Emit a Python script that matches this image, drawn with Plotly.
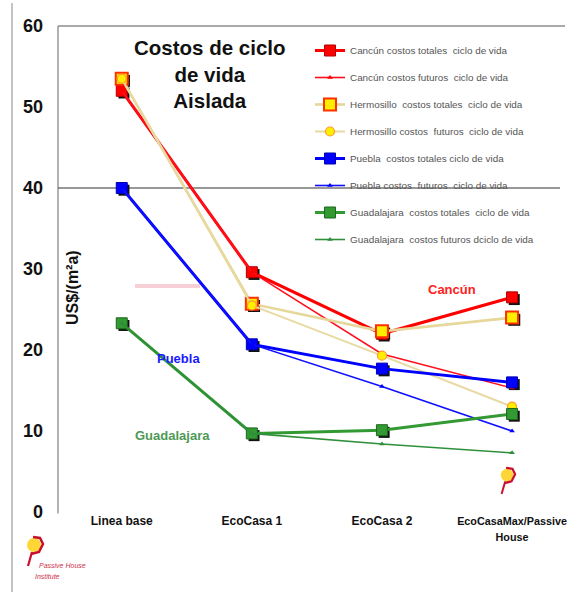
import plotly.graph_objects as go

# Scenario categories on the x axis
categories = ["Linea base", "EcoCasa 1", "EcoCasa 2", "EcoCasaMax/Passive<br>House"]

# Life-cycle costs, US$/(m²a)
cancun_totales = [52.0, 29.6, 22.0, 26.5]
cancun_futuros = [52.0, 29.6, 19.5, 15.3]
hermosillo_totales = [53.5, 25.7, 22.3, 24.0]
hermosillo_futuros = [53.5, 25.5, 19.3, 13.0]
puebla_totales = [40.0, 20.7, 17.7, 16.0]
puebla_futuros = [40.0, 20.7, 15.5, 10.0]
guadalajara_totales = [23.3, 9.7, 10.1, 12.1]
guadalajara_futuros = [23.3, 9.7, 8.4, 7.3]

y_ticks = [0, 10, 20, 30, 40, 50, 60]

FONT = "Liberation Sans, Arial, sans-serif"
W, H = 568, 592
ML, MR, MT, MB = 58, 0, 26, 80
PW, PH = W - ML - MR, H - MT - MB

X_RANGE = [-0.49, 3.43]
Y_RANGE = [0, 60]
px_per_x = PW / (X_RANGE[1] - X_RANGE[0])
px_per_y = PH / (Y_RANGE[1] - Y_RANGE[0])
SHADOW = 2.2  # drop-shadow offset in pixels


def px(x, y):
    """Pixel position -> paper coordinates (for decorations only)."""
    return (x - ML) / PW, (H - MB - y) / PH


xi = list(range(len(categories)))

series = [
    ("Cancún costos totales  ciclo de vida", cancun_totales,
     dict(color="#ff0000", width=3), dict(symbol="square", size=11, color="#ff0000",
                                          line=dict(color="#b00000", width=1)), True),
    ("Cancún costos futuros  ciclo de vida", cancun_futuros,
     dict(color="#ff1020", width=1.6), dict(symbol="triangle-up", size=5, color="#ff0000"), False),
    ("Hermosillo  costos totales  ciclo de vida", hermosillo_totales,
     dict(color="#e6d79a", width=2.6), dict(symbol="square", size=12, color="#ffee00",
                                            line=dict(color="#ff3000", width=2)), True),
    ("Hermosillo costos  futuros  ciclo de vida", hermosillo_futuros,
     dict(color="#e8d9a0", width=2), dict(symbol="circle", size=9, color="#ffee00",
                                          line=dict(color="#ff9a30", width=1.2)), False),
    ("Puebla  costos totales ciclo de vida", puebla_totales,
     dict(color="#0000ff", width=3), dict(symbol="square", size=11, color="#0000ff",
                                          line=dict(color="#0000b0", width=1)), True),
    ("Puebla costos  futuros  ciclo de vida", puebla_futuros,
     dict(color="#1010ff", width=1.6), dict(symbol="triangle-up", size=5, color="#0000ff"), False),
    ("Guadalajara  costos totales  ciclo de vida", guadalajara_totales,
     dict(color="#339933", width=3), dict(symbol="square", size=11, color="#339933",
                                          line=dict(color="#1d6a1d", width=1)), True),
    ("Guadalajara  costos futuros dciclo de vida", guadalajara_futuros,
     dict(color="#2f8f3a", width=1.6), dict(symbol="triangle-up", size=5, color="#2f8f3a"), False),
]

fig = go.Figure()

# Drop shadows for the "totales" squares, drawn on an offset base layer
for name, vals, line, marker, shadow in series:
    if shadow:
        fig.add_trace(go.Scatter(
            x=xi, y=vals, xaxis="x", yaxis="y", mode="markers",
            marker=dict(symbol="square", size=marker["size"], color="#111111"),
            showlegend=False, hoverinfo="skip"))

for i, (name, vals, line, marker, shadow) in enumerate(series):
    fig.add_trace(go.Scatter(
        x=xi, y=vals, xaxis="x2", yaxis="y2", name=name,
        mode="lines+markers", line=line, marker=marker,
        legendgroup=f"g{i}"))

shadow_x = [X_RANGE[0] - SHADOW / px_per_x, X_RANGE[1] - SHADOW / px_per_x]
shadow_y = [Y_RANGE[0] + SHADOW / px_per_y, Y_RANGE[1] + SHADOW / px_per_y]

shapes = [
    # horizontal reference line at 40
    dict(type="line", xref="paper", yref="y2", x0=0, x1=(560 - ML) / PW, y0=40, y1=40,
         line=dict(color="#333333", width=1.2), layer="below"),
    # frame: top and left edges of the plot area
    dict(type="line", xref="paper", yref="paper", x0=0, x1=(565 - ML) / PW, y0=1, y1=1,
         line=dict(color="#555555", width=1), layer="below"),
    dict(type="line", xref="paper", yref="paper", x0=0, x1=0, y0=-0.003, y1=1,
         line=dict(color="#666666", width=1), layer="below"),
    # outer left border
    dict(type="line", xref="paper", yref="paper", x0=px(12, 0)[0], x1=px(12, 0)[0],
         y0=px(0, 3)[1], y1=px(0, 592)[1], line=dict(color="#888888", width=1)),
]

# faint pink smear to the left of EcoCasa 1
a0, b0 = px(135, 286)
a1, b1 = px(200, 286)
shapes.append(dict(type="line", xref="paper", yref="paper", x0=a0, x1=a1, y0=b0, y1=b1,
                   line=dict(color="#f6c4cc", width=4), opacity=0.8))


def logo(cx, cy, s):
    """Small stylised Passive House emblem centred near (cx, cy) in pixels."""
    out = []
    # yellow body
    x0, y0 = px(cx - 7 * s, cy - 8 * s)
    x1, y1 = px(cx + 7 * s, cy + 6 * s)
    out.append(dict(type="circle", xref="paper", yref="paper", x0=x0, x1=x1, y0=y1, y1=y0,
                    fillcolor="#ffd21f", line=dict(width=0), opacity=0.9))
    # red arc on the right and down-stroke
    pts = [(cx - 1 * s, cy - 9 * s), (cx + 6 * s, cy - 8 * s), (cx + 9 * s, cy - 2 * s),
           (cx + 5 * s, cy + 6 * s), (cx - 3 * s, cy + 8 * s)]
    path = "M " + " L ".join(f"{px(a, b)[0]:.4f},{px(a, b)[1]:.4f}" for a, b in pts)
    out.append(dict(type="path", xref="paper", yref="paper", path=path,
                    line=dict(color="#c8102e", width=2.5 * s)))
    sx0, sy0 = px(cx - 2 * s, cy + 6 * s)
    sx1, sy1 = px(cx - 6 * s, cy + 20 * s)
    out.append(dict(type="line", xref="paper", yref="paper", x0=sx0, x1=sx1, y0=sy0, y1=sy1,
                    line=dict(color="#c8102e", width=2.2 * s)))
    return out


shapes += logo(34, 546, 1.0)
shapes += logo(507, 476, 0.9)

annotations = []


def note(text, x, y, size, color, bold=True, anchor="center", **kw):
    ax, ay = px(x, y)
    t = f"<b>{text}</b>" if bold else text
    annotations.append(dict(text=t, x=ax, y=ay, xref="paper", yref="paper",
                            xanchor=anchor, yanchor="middle", showarrow=False,
                            font=dict(family=FONT, size=size, color=color), **kw))


note("Costos de ciclo<br>de vida<br>Aislada", 210, 74, 20.5, "#111111")
note("US$/(m²a)", 72, 288, 16, "#111111", textangle=-90)
note("Cancún", 452, 289, 13, "#ff2020")
note("Puebla", 178, 359, 13, "#1a1aff")
note("Guadalajara", 172, 435, 13, "#4d9a55")
note("<i>Passive House</i>", 37, 565, 7, "#d0304a", bold=False, anchor="left")
note("<i>Institute</i>", 33, 576, 7, "#d0304a", bold=False, anchor="left")

# the last (two-line) category label is set a touch smaller so it stays on the page
tick_text = [f"<b>{c}</b>" for c in categories]
tick_text[-1] = f"<span style='font-size:10.8px'><b>{categories[-1]}</b></span>"

fig.update_layout(
    width=W, height=H,
    margin=dict(l=ML, r=MR, t=MT, b=MB, autoexpand=False),
    paper_bgcolor="white", plot_bgcolor="white",
    font=dict(family=FONT, color="#111111"),
    showlegend=True,
    legend=dict(x=px(310, 0)[0], y=px(0, 36)[1], xanchor="left", yanchor="top",
                bgcolor="rgba(0,0,0,0)", font=dict(family=FONT, size=9.9, color="#555555"),
                traceorder="grouped", tracegroupgap=8, itemwidth=30),
    xaxis=dict(range=shadow_x, visible=False, fixedrange=True),
    yaxis=dict(range=shadow_y, visible=False, fixedrange=True),
    xaxis2=dict(range=X_RANGE, overlaying="x", tickmode="array", tickvals=xi,
                ticktext=tick_text, showgrid=False, zeroline=False,
                showline=False, ticks="", tickfont=dict(size=12, color="#111111"),
                ticklabeloverflow="allow", anchor="y2", side="bottom"),
    yaxis2=dict(range=Y_RANGE, overlaying="y", tickmode="array", tickvals=y_ticks,
                ticktext=[f"<b>{v}</b>" for v in y_ticks], showgrid=False, zeroline=False,
                showline=False, ticks="", tickfont=dict(size=18, color="#111111"),
                ticklabelstandoff=14, anchor="x2", side="left"),
    shapes=shapes,
    annotations=annotations,
)

fig.write_html("out.html")
